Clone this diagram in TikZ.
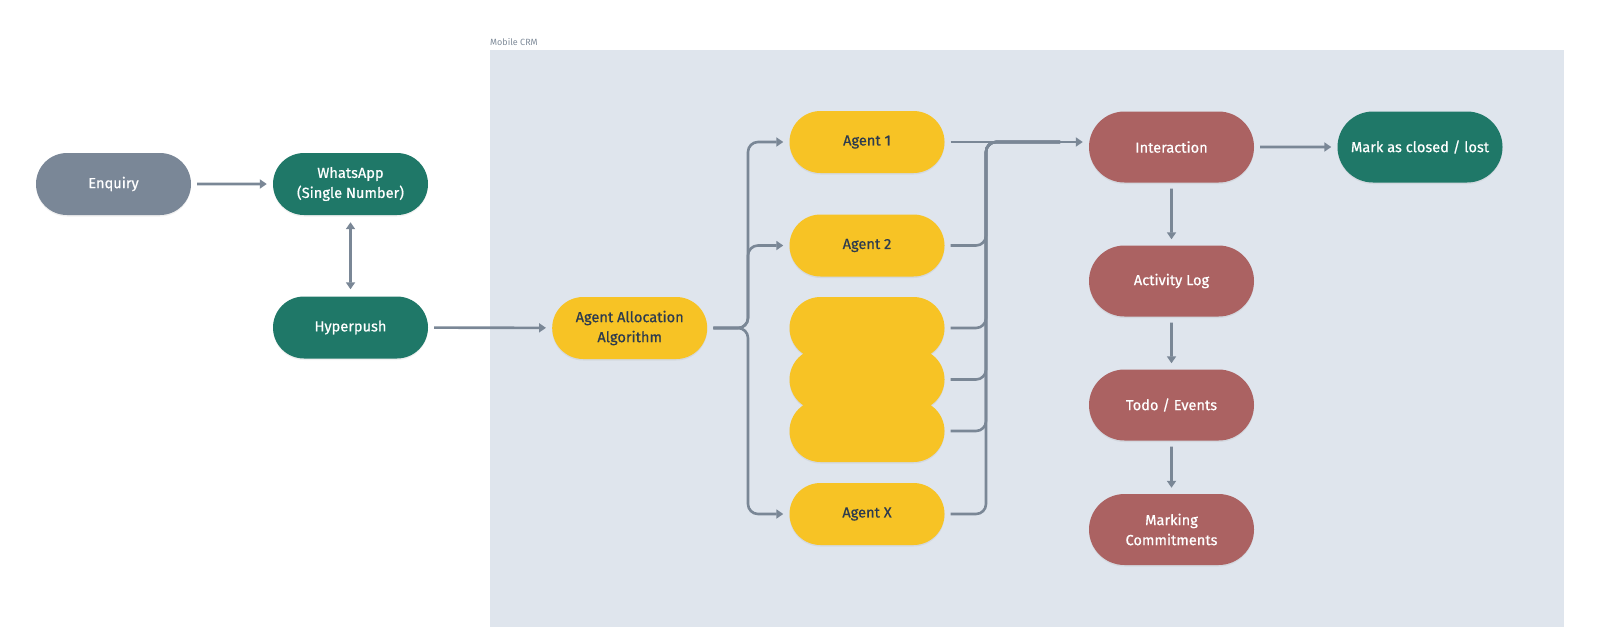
\documentclass[tikz,border=0pt]{standalone}
\usepackage{fontspec}
\setmainfont{Fira Sans}
\newfontfamily\pillfont{Fira Sans}[FakeBold=0.6]
\usetikzlibrary{arrows.meta,shadows,shapes.misc}
\definecolor{bgcrm}{HTML}{DFE5ED}
\definecolor{slatefill}{HTML}{7A8797}
\definecolor{greenfill}{HTML}{1F7868}
\definecolor{yellowfill}{HTML}{F7C325}
\definecolor{redfill}{HTML}{AB6262}
\definecolor{connc}{HTML}{7A8796}
\definecolor{darktext}{HTML}{2D3B4E}
\definecolor{labelgrey}{HTML}{7F8B99}
\begin{document}
\begin{tikzpicture}[x=1pt,y=-1pt,
  pill/.style={rounded rectangle, minimum width=155pt, minimum height=62pt,
    inner sep=0pt, align=center, font=\pillfont\fontsize{14.6}{20}\selectfont,
    drop shadow={shadow xshift=0pt, shadow yshift=-1.5pt, opacity=0.12}},
  bigpill/.style={pill, minimum width=165pt, minimum height=71pt},
  greypill/.style={pill, fill=slatefill, text=white},
  greenpill/.style={pill, fill=greenfill, text=white},
  yellowpill/.style={pill, fill=yellowfill, text=darktext},
  redpill/.style={bigpill, fill=redfill, text=white},
  conn/.style={draw=connc, line width=2.6pt, rounded corners=10pt},
  arr/.style={conn, -{Triangle[length=7pt,width=9pt]}, shorten >=6pt, shorten <=6pt},
  darr/.style={conn, {Triangle[length=7pt,width=9pt]}-{Triangle[length=7pt,width=9pt]}, shorten >=7pt, shorten <=7pt},
  wire/.style={conn, shorten <=6pt}
]
\useasboundingbox (0,0) rectangle (1600,627);
\fill[bgcrm] (490,50) rectangle (1564,627);
\node[anchor=south west, inner sep=0pt, font=\fontsize{9}{10}\selectfont, text=labelgrey] (crmlabel) at (490,46) {Mobile CRM};

\node[greypill] (enq) at (113.5,184) {Enquiry};
\node[greenpill] (wa) at (350.5,184) {WhatsApp\\(Single Number)};
\node[greenpill] (hp) at (350.5,327.5) {Hyperpush};
\node[yellowpill] (alloc) at (629.7,328) {Agent Allocation\\Algorithm};

\node[yellowpill] (a1) at (867,142) {Agent 1};
\node[yellowpill] (a2) at (867,245.5) {Agent 2};
\node[yellowpill] (b1) at (867,328) {};
\node[yellowpill] (b2) at (867,379.5) {};
\node[yellowpill] (b3) at (867,431) {};
\node[yellowpill] (ax) at (867,514) {Agent X};

\node[redpill] (inter) at (1171.5,147) {Interaction};
\node[bigpill, fill=greenfill, text=white] (mark) at (1420,147) {Mark as closed / lost};
\node[redpill] (act) at (1171.5,281) {Activity Log};
\node[redpill] (todo) at (1171.5,405) {Todo / Events};
\node[redpill] (mc) at (1171.5,529.5) {Marking\\Commitments};

\coordinate (lbus) at (748,328);
\coordinate (rbus) at (986,142);
\coordinate (rend) at (1060,142);

\draw[arr] (enq) -- (wa);
\draw[darr] (wa) -- (hp);
\draw[arr] (hp) -- (alloc);

\draw[arr] (alloc.east) -- (alloc.east -| lbus) |- (a1.west);
\draw[arr] (alloc.east) -- (alloc.east -| lbus) |- (a2.west);
\draw[arr] (alloc.east) -- (alloc.east -| lbus) |- (ax.west);

\draw[wire] (a2.east) -| (rbus) -- (rend);
\draw[wire] (b1.east) -| (rbus) -- (rend);
\draw[wire] (b2.east) -| (rbus) -- (rend);
\draw[wire] (b3.east) -| (rbus) -- (rend);
\draw[wire] (ax.east) -| (rbus) -- (rend);
\draw[arr] (a1.east) -- (a1.east -| inter.west);

\draw[arr] (inter) -- (mark);
\draw[arr] (inter) -- (act);
\draw[arr] (act) -- (todo);
\draw[arr] (todo) -- (mc);
\end{tikzpicture}
\end{document}
